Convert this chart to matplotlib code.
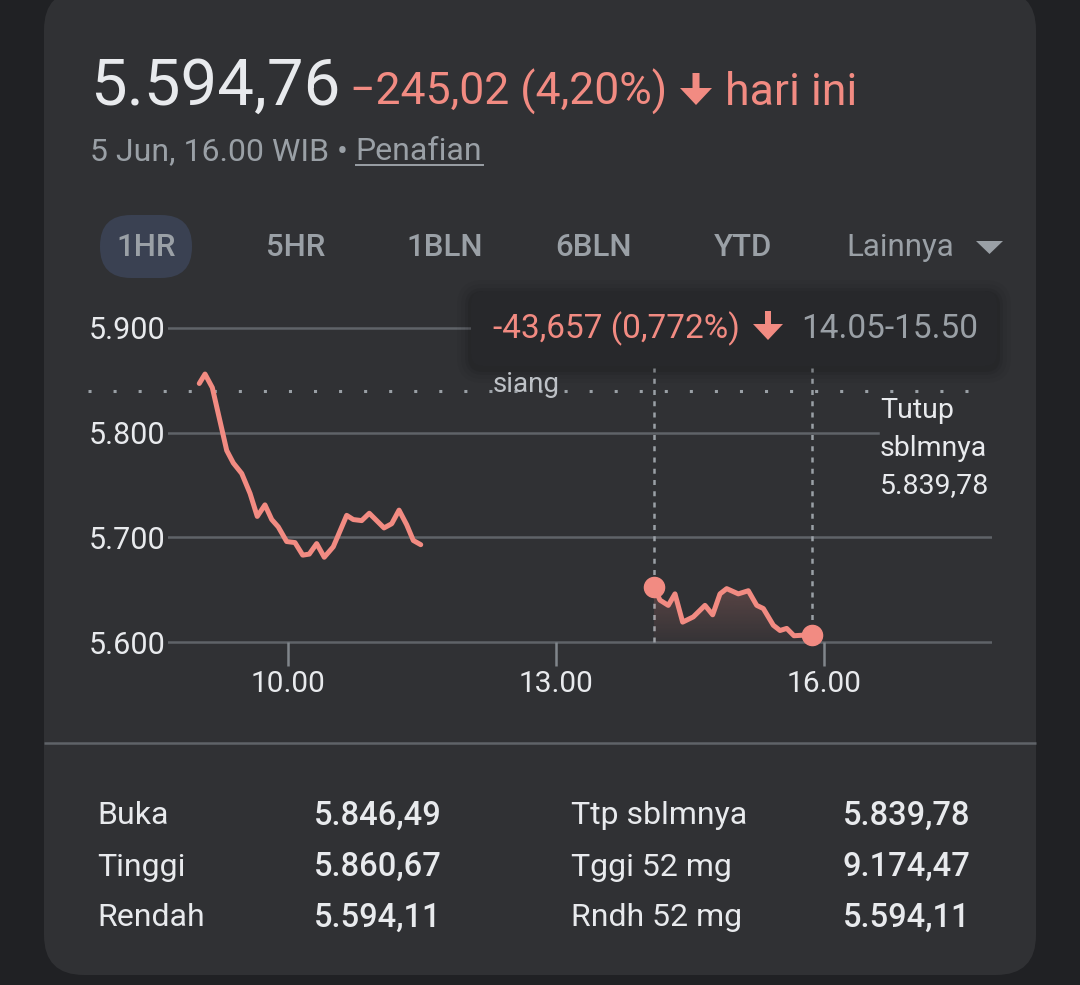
import matplotlib
matplotlib.use('Agg')
import matplotlib.pyplot as plt
import numpy as np
from matplotlib.patches import FancyBboxPatch, FancyArrow, Polygon
from matplotlib.colors import LinearSegmentedColormap, to_rgb

plt.rcParams['font.family'] = ['Roboto', 'DejaVu Sans']

# --- data (time in decimal hours, index level) ---
morning_time = [9.007, 9.071, 9.153, 9.220, 9.314, 9.388, 9.482, 9.575, 9.656, 9.742,
                9.818, 9.891, 9.985, 10.078, 10.165, 10.238, 10.321, 10.406, 10.507,
                10.657, 10.731, 10.825, 10.910, 11.075, 11.161, 11.243, 11.329, 11.403,
                11.486]
morning_value = [5847, 5856, 5843, 5818, 5783, 5771, 5761, 5742, 5720, 5731,
                 5717, 5710, 5696, 5695, 5683, 5684, 5694, 5681, 5691,
                 5721, 5717, 5716, 5723, 5709, 5713, 5726, 5712, 5697,
                 5693]
afternoon_time = [14.097, 14.164, 14.257, 14.332, 14.418, 14.537, 14.668, 14.754, 14.836,
                  14.911, 15.041, 15.153, 15.247, 15.321, 15.433, 15.508, 15.583, 15.664,
                  15.862]
afternoon_value = [5653, 5640, 5635, 5646, 5619, 5624, 5635, 5626, 5646,
                   5651, 5646, 5649, 5635, 5632, 5616, 5611, 5613, 5606,
                   5607]

prev_close = 5839.78
price = 5594.76
change = -245.02
change_pct = 4.20
range_change = -43.657
range_pct = 0.772
range_label = '14.05-15.50'

y_ticks = [5600, 5700, 5800, 5900]
x_ticks = [10, 13, 16]
x_tick_labels = ['10.00', '13.00', '16.00']
tabs = ['1HR', '5HR', '1BLN', '6BLN', 'YTD']
stat_labels_left = ['Buka', 'Tinggi', 'Rendah']
stat_values_left = ['5.846,49', '5.860,67', '5.594,11']
stat_labels_right = ['Ttp sblmnya', 'Tggi 52 mg', 'Rndh 52 mg']
stat_values_right = ['5.839,78', '9.174,47', '5.594,11']

BG = '#202124'
CARD = '#303134'
WHITE = '#e8eaed'
GRAY = '#9aa0a6'
LIGHT = '#bdc1c6'
RED = '#f28b82'
GRID = '#5f6368'


def fmt_id(v, dec=2):
    s = f"{v:,.{dec}f}"
    return s.replace(',', 'X').replace('.', ',').replace('X', '.')


W, H = 1080, 985
fig = plt.figure(figsize=(W / 100, H / 100), dpi=100)
fig.patch.set_facecolor(BG)
renderer = fig.canvas.get_renderer()

# background overlay in pixel coords
bg = fig.add_axes([0, 0, 1, 1], zorder=0)
bg.set_xlim(0, W)
bg.set_ylim(H, 0)
bg.axis('off')
bg.add_patch(FancyBboxPatch((44, -10), 992, 985, boxstyle='round,pad=0,rounding_size=40',
                            fc=CARD, ec='none'))
bg.plot([44, 1036], [743, 743], color=GRID, lw=1.8, solid_capstyle='butt')

# header
bg.text(90, 105, fmt_id(price), fontsize=47, color=WHITE, va='baseline')
bg.text(350, 105, '\u2212' + fmt_id(abs(change)) + f' ({fmt_id(change_pct)}%)',
        fontsize=32, color=RED, va='baseline')
bg.add_patch(FancyArrow(696, 73, 0, 32, width=7, head_width=32, head_length=17,
                        length_includes_head=True, fc=RED, ec='none'))
bg.text(725, 105, 'hari ini', fontsize=32, color=RED, va='baseline')

date_txt = bg.text(90, 160, '5 Jun, 16.00 WIB \u2022 ', fontsize=23, color=GRAY,
                   va='baseline')
x_end = bg.transData.inverted().transform(
    (date_txt.get_window_extent(renderer).x1, 0))[0]
link = bg.text(x_end, 160, 'Penafian', fontsize=23, color=GRAY, va='baseline')
link_end = bg.transData.inverted().transform(
    (link.get_window_extent(renderer).x1, 0))[0]
bg.plot([x_end, link_end], [165, 165], color=GRAY, lw=1.4)

# range tabs
bg.add_patch(FancyBboxPatch((100, 215), 92, 63, boxstyle='round,pad=0,rounding_size=31',
                            fc='#3a4152', ec='none'))
for i, t in enumerate(tabs):
    bg.text(146 + i * 149.3, 247, t, fontsize=22.5, color=GRAY, ha='center', va='center',
            fontweight='medium')
bg.text(846, 247, 'Lainnya', fontsize=22.5, color=GRAY, ha='left', va='center')
bg.add_patch(Polygon([(976, 241), (1003, 241), (989.5, 254)], closed=True,
                     fc=GRAY, ec='none'))

# stats table
for i in range(3):
    y = 816 + i * 51
    bg.text(97, y, stat_labels_left[i], fontsize=23, color=WHITE, va='center')
    bg.text(314, y, stat_values_left[i], fontsize=23.5, color=WHITE, va='center',
            fontweight='medium')
    bg.text(571, y, stat_labels_right[i], fontsize=23, color=WHITE, va='center')
    bg.text(843, y, stat_values_right[i], fontsize=23.5, color=WHITE, va='center',
            fontweight='medium')

# --- chart axes: px 168..992 horizontally, 300..700 vertically ---
ax = fig.add_axes([168 / W, 1 - 700 / H, 824 / W, 400 / H], zorder=1)
ax.set_facecolor('none')
for s in ax.spines.values():
    s.set_visible(False)
ax.spines['bottom'].set_position(('data', 5600))

for v in y_ticks:
    xmax = (878 - 168) / 824 if v == 5800 else 1
    ax.axhline(v, xmin=0, xmax=xmax, color=GRID, lw=1.8, zorder=0.5)

ax.axhline(prev_close, xmin=(88 - 168) / 824, xmax=(985 - 168) / 824, color=GRAY,
           lw=2.2, linestyle=(0, (1, 7.2)), clip_on=False, zorder=0.6)

ax.vlines([afternoon_time[0], afternoon_time[-1]], 5600, 5862, colors=GRAY, lw=1.8,
          linestyles=[(0, (2, 2.5))], zorder=0.7)

# gradient fill under afternoon session
poly = ax.fill_between(afternoon_time, afternoon_value, 5600, color='none', lw=0)
r, g, b = to_rgb(RED)
cmap = LinearSegmentedColormap.from_list('fade', [(r, g, b, 0.03), (r, g, b, 0.22)])
img = ax.imshow(np.linspace(0, 1, 256).reshape(-1, 1), cmap=cmap, aspect='auto',
                origin='lower', zorder=1,
                extent=[afternoon_time[0], afternoon_time[-1], 5600, max(afternoon_value)])
img.set_clip_path(poly.get_paths()[0], transform=ax.transData)

ax.plot(morning_time, morning_value, color=RED, lw=3.6, solid_joinstyle='round',
        solid_capstyle='round', zorder=2)
ax.plot(afternoon_time, afternoon_value, color=RED, lw=3.6, solid_joinstyle='round',
        solid_capstyle='round', zorder=2)
ax.plot([afternoon_time[0], afternoon_time[-1]], [afternoon_value[0], afternoon_value[-1]],
        'o', ms=14.5, color=RED, zorder=3)

ax.set_xlim(8.6567, 17.881)
ax.set_ylim(5544.6, 5926.75)
ax.set_xticks(x_ticks)
ax.set_xticklabels(x_tick_labels)
ax.set_yticks(y_ticks)
ax.set_yticklabels([f"{v / 1000:.3f}" for v in y_ticks])
ax.tick_params(axis='x', length=17, width=1.8, color='#80868b', pad=3, labelsize=21.5,
               labelcolor=WHITE)
ax.tick_params(axis='y', length=0, pad=2, labelsize=22, labelcolor=WHITE)

# --- foreground overlay: tooltip and labels ---
fg = fig.add_axes([0, 0, 1, 1], zorder=3)
fg.set_xlim(0, W)
fg.set_ylim(H, 0)
fg.axis('off')
for k, a in zip([14, 10, 6, 3], [0.03, 0.04, 0.05, 0.07]):
    fg.add_patch(FancyBboxPatch((471 - k, 291 - k + 3), 526 + 2 * k, 75 + 2 * k,
                                boxstyle=f'round,pad=0,rounding_size={12 + k}',
                                fc='black', ec='none', alpha=a))
fg.add_patch(FancyBboxPatch((471, 291), 526, 75, boxstyle='round,pad=0,rounding_size=12',
                            fc='#27282b', ec='none'))
fg.text(493, 329, f'-{fmt_id(abs(range_change), 3)} ({fmt_id(range_pct, 3)}%)',
        fontsize=24, color=RED, va='center')
fg.add_patch(FancyArrow(768, 311, 0, 29, width=6, head_width=30, head_length=16,
                        length_includes_head=True, fc=RED, ec='none'))
fg.text(801, 329, range_label, fontsize=24, color=GRAY, va='center')
fg.text(493, 385, 'siang', fontsize=20, color=LIGHT, va='center')
for i, line in enumerate(['Tutup', 'sblmnya', fmt_id(prev_close)]):
    fg.text(880, 410 + i * 38, line, fontsize=20.5, color=WHITE, va='center')

fig.savefig('out.png', dpi=100, facecolor=BG)
